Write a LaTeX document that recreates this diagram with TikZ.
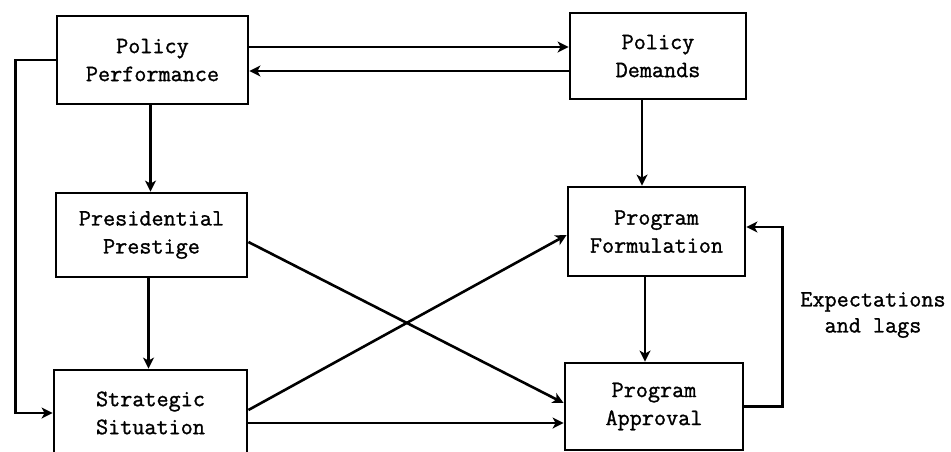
\documentclass[tikz,border=0pt]{standalone}
\usepackage{fontspec}
\newfontfamily\twfont{Latin Modern Mono}[FakeBold=1.2]
\usetikzlibrary{arrows.meta}
\begin{document}
\begin{tikzpicture}[x=1pt,y=1pt,
  box/.style={draw,line width=2.8pt,inner sep=0pt,align=center,
    font=\fontsize{23.5}{28}\selectfont\twfont},
  arr/.style={line width=2.6pt,-{Stealth[length=11pt,width=11pt,inset=3pt]}},
  lbl/.style={align=center,font=\fontsize{23.5}{26}\selectfont\twfont}]
\useasboundingbox (0,0) rectangle (951,-451);
\clip (0,0) rectangle (951,-451);
\node[box,minimum width=191pt,minimum height=88pt] (pp) at (152.5,-60) {Policy\\Performance};
\node[box,minimum width=176pt,minimum height=86pt] (pd) at (658,-56) {Policy\\Demands};
\node[box,minimum width=191pt,minimum height=84pt] (pr) at (151.5,-235) {Presidential\\Prestige};
\node[box,minimum width=193pt,minimum height=86pt] (ss) at (150.5,-413) {Strategic\\Situation};
\node[box,minimum width=177pt,minimum height=89pt] (pf) at (656.5,-231.5) {Program\\Formulation};
\node[box,minimum width=178pt,minimum height=87pt] (pa) at (654,-406.5) {Program\\Approval};
\node[lbl] (ex) at (873,-315) {Expectations\\and lags};
% top pair
\draw[arr] ([yshift=13pt]pp.east) -- ([yshift=13pt]pp.east -| pd.west);
\draw[arr] ([yshift=-15pt]pd.west) -- ([yshift=-15pt]pd.west -| pp.east);
% verticals
\draw[arr] ([xshift=-2pt]pp.south) -- ([xshift=-2pt]pp.south |- pr.north);
\draw[arr] ([xshift=-3pt]pr.south) -- ([xshift=-3pt]pr.south |- ss.north);
\draw[arr] ([xshift=-16pt]pd.south) -- ([xshift=-16pt]pd.south |- pf.north);
\draw[arr] ([xshift=-11.5pt]pf.south) -- ([xshift=-11.5pt]pf.south |- pa.north);
% left feedback
\draw[arr] (pp.west) -- ++(-40pt,0) |- (ss.west);
% diagonals
\draw[arr] ([yshift=-7pt]pr.east) -- ([yshift=3.5pt]pa.west);
\draw[arr] ([yshift=3pt]ss.east) -- ([yshift=-3.5pt]pf.west);
\draw[arr] ([yshift=-10pt]ss.east) -- ([yshift=-10pt]ss.east -| pa.west);
% expectations loop
\draw[arr] (pa.east) -- ++(38pt,0) |- ([yshift=4.5pt]pf.east);
\end{tikzpicture}
\end{document}
